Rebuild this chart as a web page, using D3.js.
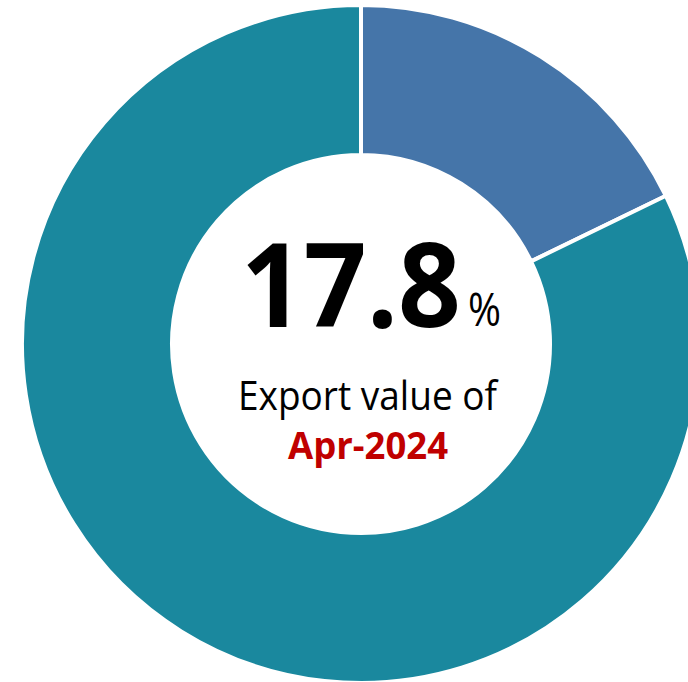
<!DOCTYPE html>
<html><head><meta charset="utf-8">
<script src="https://cdn.jsdelivr.net/npm/d3@7"></script>
<style>html,body{margin:0;padding:0;background:#fff;}svg{display:block;}</style>
</head><body>
<script>
const categories = ["Share", "Rest"];
const values = [17.8, 82.2];
const colors = ["#4575A9", "#1A889E"];
const bigLabel = "17.8";
const unitLabel = "%";
const subLabel = "Export value of";
const dateLabel = "Apr-2024";

const W = 688, H = 682;
const svg = d3.select("body").append("svg").attr("width", W).attr("height", H);
const g = svg.append("g").attr("transform", "translate(361,344)");

const pie = d3.pie().sort(null).value(d => d.v);
const arc = d3.arc().innerRadius(189).outerRadius(339);
const data = pie(categories.map((c, i) => ({c, v: values[i]})));

g.selectAll("path").data(data).join("path")
  .attr("d", arc)
  .attr("fill", (d, i) => colors[i])
  .attr("stroke", "#fff").attr("stroke-width", 4).attr("stroke-linejoin", "miter");

const font = "'Open Sans', sans-serif";
const big = svg.append("text").attr("transform", "translate(241,327)")
  .attr("font-family", font).attr("font-weight", 700).attr("fill", "#000")
  .attr("font-size", 116).text(bigLabel);
const bw = big.node().getComputedTextLength();
big.attr("transform", `translate(241,327) scale(${220 / bw},1)`);

svg.append("text").attr("x", 468).attr("y", 326)
  .attr("font-family", font).attr("font-weight", 400).attr("fill", "#000")
  .attr("font-size", 46).attr("textLength", 33).attr("lengthAdjust", "spacingAndGlyphs").text(unitLabel);

svg.append("text").attr("x", 238).attr("y", 410)
  .attr("font-family", font).attr("font-size", 41).attr("fill", "#000")
  .attr("textLength", 259).attr("lengthAdjust", "spacingAndGlyphs").text(subLabel);

svg.append("text").attr("x", 288).attr("y", 459)
  .attr("font-family", font).attr("font-size", 37).attr("font-weight", 700).attr("fill", "#C00000")
  .attr("textLength", 160).attr("lengthAdjust", "spacingAndGlyphs").text(dateLabel);
</script>
</body></html>
